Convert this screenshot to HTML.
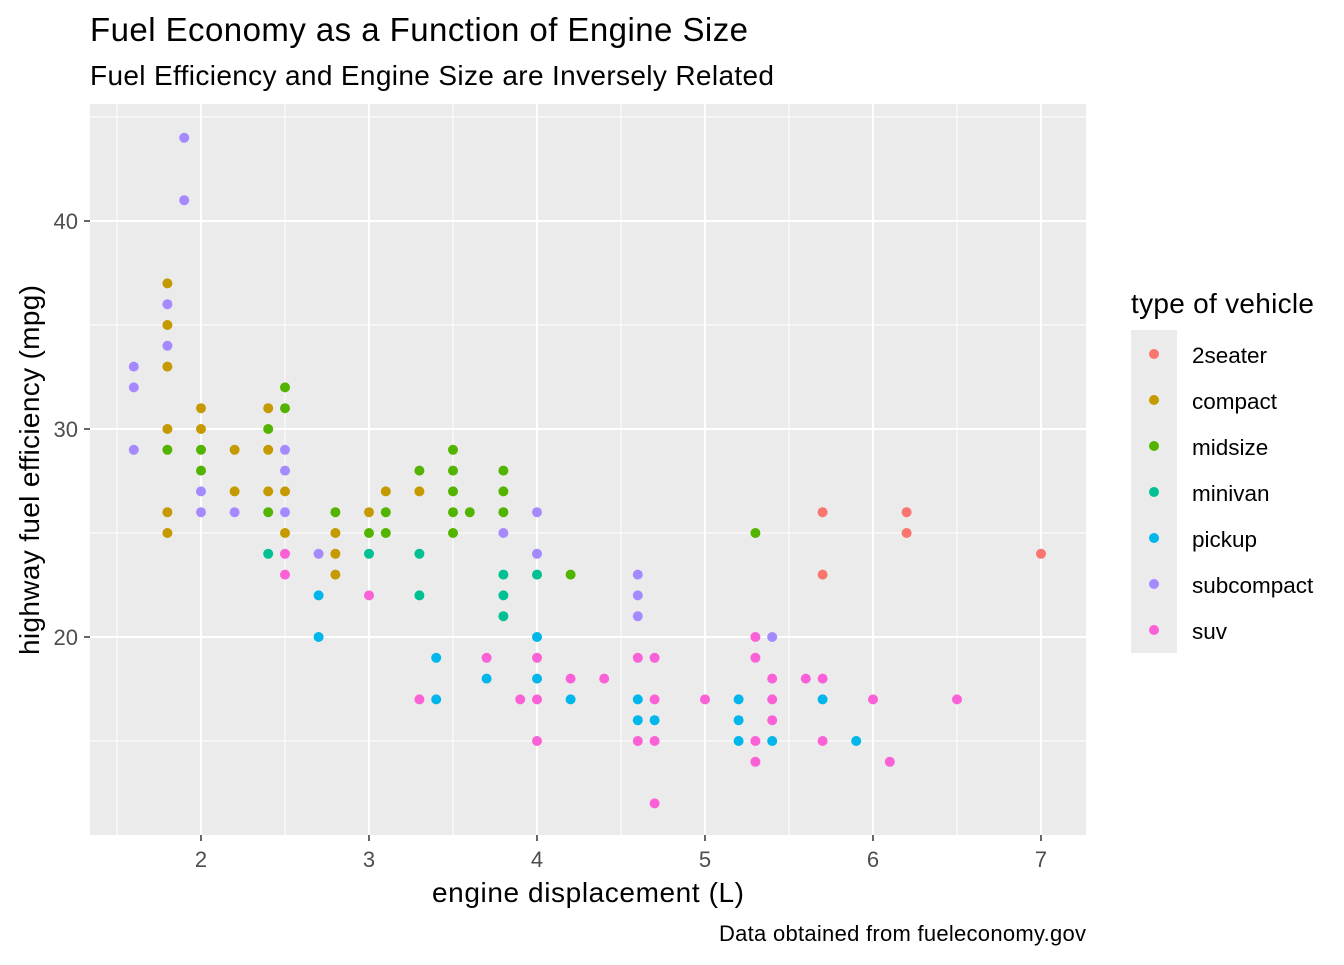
<!DOCTYPE html>
<html><head><meta charset="utf-8"><style>
body{margin:0;background:#fff;}
svg text{font-family:"Liberation Sans",Arial,sans-serif;}
</style></head><body>
<svg id="chart" width="1344" height="960" xmlns="http://www.w3.org/2000/svg">
<rect width="1344" height="960" fill="#fff"/>
<text x="90" y="41" font-size="33" textLength="658" fill="#000">Fuel Economy as a Function of Engine Size</text>
<text x="90" y="85" font-size="28" textLength="684" fill="#000">Fuel Efficiency and Engine Size are Inversely Related</text>
<rect x="90" y="104" width="996" height="731" fill="#EBEBEB"/>
<g id="grid"></g>
<g id="points"></g>
<g id="axes"></g>
<text x="432" y="902" font-size="28" textLength="312" fill="#000">engine displacement (L)</text>
<text transform="translate(39,655) rotate(-90)" font-size="28" textLength="370" fill="#000">highway fuel efficiency (mpg)</text>
<text x="719" y="941" font-size="22" textLength="367" fill="#000">Data obtained from fueleconomy.gov</text>
<g id="legend">
<text x="1131" y="313" font-size="28" textLength="183" fill="#000">type of vehicle</text>
<rect x="1131" y="330" width="46" height="323" fill="#EBEBEB"/>
</g>
</svg>
<script>
const classes=["2seater","compact","midsize","minivan","pickup","subcompact","suv"];
const colors=["#F8766D","#C49A00","#53B400","#00C094","#00B6EB","#A58AFF","#FB61D7"];
const xTicks=[2,3,4,5,6,7];
const yTicks=[20,30,40];
const displ=[5.7,5.7,6.2,6.2,7.0,
1.8,1.8,1.8,1.8,1.8,1.8,2.0,2.0,2.2,2.2,2.4,2.4,2.4,2.5,2.5,2.8,2.8,2.8,3.0,3.1,3.3,
2.4,2.4,2.5,2.5,2.8,3.0,3.1,3.1,3.3,3.5,3.5,3.5,3.5,3.5,3.6,3.8,3.8,3.8,4.2,5.3,1.8,2.0,2.0,
2.4,3.0,3.3,3.3,3.8,3.8,3.8,4.0,
2.7,2.7,3.4,3.4,3.7,4.0,4.0,4.2,4.6,4.6,4.7,5.2,5.2,5.2,5.4,5.7,5.9,
1.6,1.6,1.6,1.8,1.8,1.9,1.9,2.0,2.0,2.2,2.5,2.5,2.5,2.7,3.8,4.0,4.0,4.6,4.6,4.6,5.4,
2.5,2.5,3.0,3.3,3.7,3.9,4.0,4.0,4.0,4.2,4.4,4.6,4.6,4.7,4.7,4.7,4.7,5.0,5.3,5.3,5.3,5.3,5.4,5.4,5.4,5.6,5.7,5.7,6.0,6.1,6.5];
const hwy=[26,23,26,25,24,
37,35,33,30,26,25,31,30,29,27,31,29,27,27,25,25,24,23,26,27,27,
30,26,32,31,26,25,26,25,28,29,28,27,26,25,26,28,27,26,23,25,29,29,28,
24,24,24,22,23,22,21,23,
22,20,19,17,18,20,18,17,17,16,16,17,16,15,15,17,15,
33,32,29,36,34,44,41,27,26,26,29,28,26,24,25,26,24,23,22,21,20,
24,23,22,17,19,17,19,17,15,18,18,19,15,19,17,15,12,17,20,19,15,14,18,17,16,18,18,15,17,14,17];
const cls=[0,0,0,0,0,
1,1,1,1,1,1,1,1,1,1,1,1,1,1,1,1,1,1,1,1,1,
2,2,2,2,2,2,2,2,2,2,2,2,2,2,2,2,2,2,2,2,2,2,2,
3,3,3,3,3,3,3,3,
4,4,4,4,4,4,4,4,4,4,4,4,4,4,4,4,4,
5,5,5,5,5,5,5,5,5,5,5,5,5,5,5,5,5,5,5,5,5,
6,6,6,6,6,6,6,6,6,6,6,6,6,6,6,6,6,6,6,6,6,6,6,6,6,6,6,6,6,6,6];
const NS="http://www.w3.org/2000/svg";
const sx=v=>201+(v-2)*168;
const sy=v=>637-(v-20)*20.8;
function mk(tag,attrs,parent){const e=document.createElementNS(NS,tag);for(const k in attrs)e.setAttribute(k,attrs[k]);parent.appendChild(e);return e;}
const grid=document.getElementById('grid'),pts=document.getElementById('points'),axes=document.getElementById('axes'),leg=document.getElementById('legend');
[1.5,2.5,3.5,4.5,5.5,6.5].forEach(v=>{const l=mk('line',{x1:sx(v),x2:sx(v),y1:104,y2:835,stroke:'#fff','stroke-width':1},grid);

});
[15,25,35,45].forEach(v=>{const l=mk('line',{x1:90,x2:1086,y1:sy(v),y2:sy(v),stroke:'#fff','stroke-width':1},grid);

});
xTicks.forEach(v=>{const l=mk('line',{x1:sx(v),x2:sx(v),y1:104,y2:835,stroke:'#fff','stroke-width':2},grid);


const t=mk('line',{x1:sx(v),x2:sx(v),y1:835,y2:841,stroke:'#333','stroke-width':1.5},axes);


const tx=mk('text',{x:sx(v),y:867,'font-size':22,'text-anchor':'middle',fill:'#4D4D4D'},axes);tx.textContent=v;

});
yTicks.forEach(v=>{const l=mk('line',{x1:90,x2:1086,y1:sy(v),y2:sy(v),stroke:'#fff','stroke-width':2},grid);


const t=mk('line',{x1:84,x2:90,y1:sy(v),y2:sy(v),stroke:'#333','stroke-width':1.5},axes);


const tx=mk('text',{x:78,y:sy(v)+8,'font-size':22,'text-anchor':'end',fill:'#4D4D4D'},axes);tx.textContent=v;

});
displ.forEach((d,i)=>{const c=mk('circle',{cx:sx(d),cy:sy(hwy[i]),r:5,fill:colors[cls[i]]},pts);

});
classes.forEach((c,i)=>{const y=354+i*46;
const d=mk('circle',{cx:1154,cy:y,r:5,fill:colors[i]},leg);


const t=mk('text',{x:1192,y:y+9,'font-size':22.5,fill:'#000'},leg);t.textContent=c;

});
</script>
</body></html>
